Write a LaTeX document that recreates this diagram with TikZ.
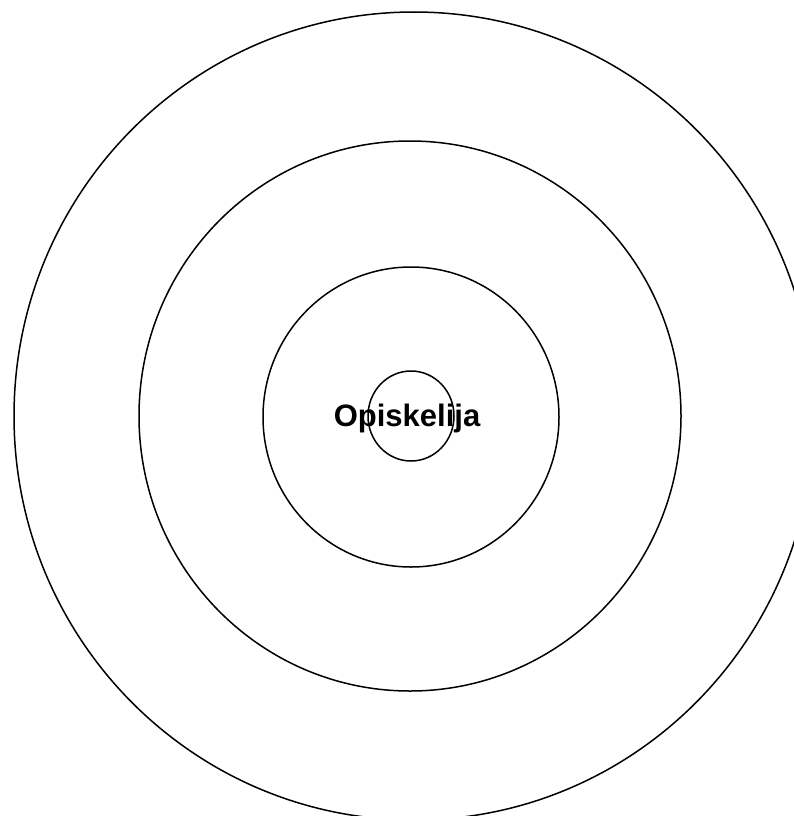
\documentclass[tikz,border=0pt]{standalone}
\usepackage{fontspec}
\setmainfont{Liberation Sans}
\usepackage{tikz}
\usetikzlibrary{positioning}
\tikzset{
  ring/.style={draw=black, line width=1.5pt},
  label/.style={font=\bfseries\fontsize{31}{31}\selectfont, inner sep=0pt}
}
\begin{document}
\begin{tikzpicture}[x=1pt, y=-1pt]
  \useasboundingbox (0,0) rectangle (794,816);
  \clip (0,0) rectangle (794,816);

  % rings, outside in
  \draw[ring] (414,416) ellipse [x radius=400, y radius=404];
  \draw[ring] (410,416) ellipse [x radius=271, y radius=275];
  \draw[ring] (411,417) ellipse [x radius=148, y radius=150];
  \draw[ring] (411,416) ellipse [x radius=43, y radius=45];

  \node[label] (student) at (407,418) {Opiskelija};
\end{tikzpicture}
\end{document}
